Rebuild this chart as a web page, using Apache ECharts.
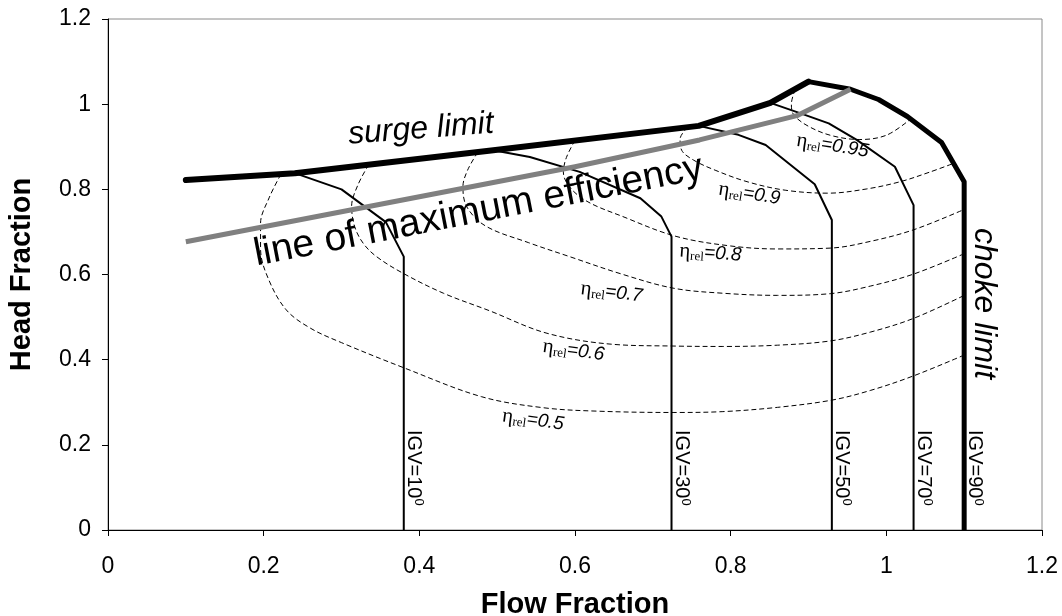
<!DOCTYPE html>
<html>
<head>
<meta charset="utf-8">
<script src="https://cdn.jsdelivr.net/npm/echarts@6/dist/echarts.min.js"></script>
<style>
  html, body { margin: 0; padding: 0; background: #fff; }
  #chart { width: 1062px; height: 616px; }
</style>
</head>
<body>
<div id="chart"></div>
<script>
// ---- compressor map data: [flow fraction, head fraction] ----
const tickLabels = ['0', '0.2', '0.4', '0.6', '0.8', '1', '1.2'];

const surgeLimit = [[0.10, 0.822], [0.24, 0.838], [0.495, 0.892], [0.759, 0.949], [0.851, 1.003], [0.90, 1.053]];
const maxEfficiency = [[0.10, 0.677], [0.60, 0.853], [0.76, 0.916], [0.885, 0.973], [0.954, 1.035]];

const igvAngles = [10, 30, 50, 70, 90];
const igv10 = [[0.24, 0.838], [0.30, 0.80], [0.357, 0.723], [0.38, 0.642], [0.38, 0]];
const igv30 = [[0.495, 0.892], [0.542, 0.876], [0.606, 0.841], [0.684, 0.779], [0.711, 0.736], [0.724, 0.689], [0.724, 0]];
const igv50 = [[0.759, 0.949], [0.81, 0.928], [0.845, 0.904], [0.908, 0.812], [0.93, 0.728], [0.93, 0]];
const igv70 = [[0.851, 1.003], [0.889, 0.979], [0.926, 0.955], [0.962, 0.916], [1.011, 0.853], [1.035, 0.763], [1.035, 0]];
const igv90 = [[0.90, 1.053], [0.954, 1.035], [0.99, 1.011], [1.027, 0.971], [1.071, 0.91], [1.10, 0.818], [1.10, 0]];

const etaLevels = [0.5, 0.6, 0.7, 0.8, 0.9, 0.95];
const eta50 = [[0.222, 0.835], [0.207, 0.78], [0.196, 0.72], [0.196, 0.66], [0.206, 0.59], [0.229, 0.517], [0.26, 0.474], [0.30, 0.44], [0.38, 0.381], [0.48, 0.313], [0.56, 0.287], [0.63, 0.279], [0.726, 0.276], [0.79, 0.278], [0.86, 0.288], [0.93, 0.305], [0.98, 0.328], [1.035, 0.362], [1.099, 0.41]];
const eta60 = [[0.335, 0.858], [0.321, 0.81], [0.313, 0.76], [0.317, 0.712], [0.328, 0.673], [0.345, 0.642], [0.379, 0.603], [0.431, 0.556], [0.49, 0.515], [0.564, 0.462], [0.649, 0.436], [0.726, 0.432], [0.79, 0.431], [0.86, 0.434], [0.928, 0.444], [0.98, 0.465], [1.035, 0.497], [1.099, 0.55]];
const eta70 = [[0.475, 0.887], [0.462, 0.845], [0.456, 0.806], [0.461, 0.759], [0.485, 0.714], [0.54, 0.675], [0.593, 0.642], [0.66, 0.601], [0.726, 0.568], [0.79, 0.556], [0.86, 0.551], [0.928, 0.555], [0.98, 0.573], [1.035, 0.601], [1.099, 0.648]];
const eta80 = [[0.60, 0.915], [0.589, 0.875], [0.585, 0.841], [0.606, 0.783], [0.667, 0.732], [0.731, 0.689], [0.80, 0.667], [0.86, 0.66], [0.928, 0.662], [0.98, 0.678], [1.035, 0.705], [1.099, 0.752]];
const eta90 = [[0.745, 0.946], [0.735, 0.918], [0.737, 0.892], [0.752, 0.869], [0.78, 0.845], [0.821, 0.818], [0.87, 0.798], [0.925, 0.791], [0.975, 0.801], [1.018, 0.818], [1.055, 0.84], [1.088, 0.862]];
const eta95 = [[0.883, 1.035], [0.878, 1.0], [0.881, 0.975], [0.90, 0.948], [0.93, 0.926], [0.966, 0.917], [1.0, 0.927], [1.029, 0.962]];

// ---- layout of the annotations (data-space anchors, rotation in degrees) ----
const igvCurves = [igv10, igv30, igv50, igv70, igv90];
const etaCurves = [eta50, eta60, eta70, eta80, eta90, eta95];
const igvLabelHead = 0.146;
const etaLabelSpots = [
  { at: [0.546, 0.258], rotate: -8 },
  { at: [0.598, 0.421], rotate: -8 },
  { at: [0.647, 0.558], rotate: -7 },
  { at: [0.774, 0.650], rotate: -4 },
  { at: [0.824, 0.789], rotate: -9 },
  { at: [0.931, 0.902], rotate: -9 }
];
const notes = [
  { text: 'surge limit', at: [0.402, 0.941], rotate: 4.4, size: 32, italic: true },
  { text: 'line of maximum efficiency', at: [0.476, 0.748], rotate: 11, size: 39, italic: false },
  { text: 'choke limit', at: [1.126, 0.532], rotate: -90, size: 32, italic: true }
];

const SANS = "'Liberation Sans', Arial, sans-serif";
const SERIF = "'Liberation Serif', 'Times New Roman', serif";

const base = { type: 'line', symbol: 'none', showSymbol: false, silent: true, animation: false };
const textLayer = { type: 'scatter', silent: true, animation: false, symbolSize: 0, itemStyle: { opacity: 1 } };

const series = [];

etaCurves.forEach((pts, i) => {
  series.push(Object.assign({}, base, {
    name: 'eta ' + etaLevels[i],
    data: pts,
    smooth: 0.35,
    z: 2,
    lineStyle: { color: '#000', width: 1, type: [5, 3] }
  }));
});

igvCurves.slice(0, 4).forEach((pts, i) => {
  series.push(Object.assign({}, base, {
    name: 'IGV ' + igvAngles[i],
    data: pts,
    z: 3,
    lineStyle: { color: '#000', width: 2, join: 'round' }
  }));
});

series.push(Object.assign({}, base, {
  name: 'choke limit',
  data: igv90,
  z: 4,
  lineStyle: { color: '#000', width: 5, join: 'round' }
}));

series.push(Object.assign({}, base, {
  name: 'surge limit',
  data: surgeLimit,
  z: 4,
  lineStyle: { color: '#000', width: 6, cap: 'round', join: 'round' }
}));

series.push(Object.assign({}, base, {
  name: 'max efficiency',
  data: maxEfficiency,
  z: 5,
  lineStyle: { color: '#808080', width: 5, join: 'round' }
}));

// IGV angle labels, reading downwards beside each vertical segment
series.push(Object.assign({}, textLayer, {
  z: 6,
  data: igvCurves.map((pts, i) => ({
    value: [pts[pts.length - 1][0], igvLabelHead],
    label: { formatter: '{t|IGV=' + igvAngles[i] + '}{s|0}' }
  })),
  label: {
    show: true,
    position: 'inside',
    rotate: -90,
    offset: [0, -10],
    color: '#000',
    rich: {
      t: { fontFamily: SANS, fontSize: 20, lineHeight: 22, color: '#000' },
      s: { fontFamily: SANS, fontSize: 13, lineHeight: 13, verticalAlign: 'top', color: '#000' }
    }
  }
}));

// relative efficiency contour labels
series.push(Object.assign({}, textLayer, {
  z: 6,
  data: etaLevels.map((lv, i) => ({
    value: etaLabelSpots[i].at,
    label: { rotate: etaLabelSpots[i].rotate, formatter: '{e|\u03B7}{r|rel}{v|=' + lv + '}' }
  })),
  label: {
    show: true,
    position: 'inside',
    color: '#000',
    rich: {
      e: { fontFamily: SERIF, fontSize: 21, lineHeight: 22, color: '#000' },
      r: { fontFamily: SERIF, fontSize: 13, lineHeight: 12, verticalAlign: 'bottom', color: '#000' },
      v: { fontFamily: SANS, fontSize: 19, fontStyle: 'italic', lineHeight: 22, color: '#000' }
    }
  }
}));

// large annotations
series.push(Object.assign({}, textLayer, {
  z: 7,
  data: notes.map(n => ({
    value: n.at,
    label: {
      formatter: n.text,
      rotate: n.rotate,
      fontSize: n.size,
      color: '#000',
      fontStyle: n.italic ? 'italic' : 'normal'
    }
  })),
  label: { show: true, position: 'inside', color: '#000', fontFamily: SANS }
}));

const axisCommon = {
  type: 'value',
  min: 0,
  max: 1.2,
  interval: 0.2,
  nameLocation: 'middle',
  nameTextStyle: { fontFamily: SANS, fontSize: 29, fontWeight: 'bold', color: '#000' },
  axisLine: { show: true, onZero: false, lineStyle: { color: '#000', width: 1 } },
  axisTick: { show: true, inside: false, length: 6, lineStyle: { color: '#000', width: 1 } },
  splitLine: { show: false },
  axisLabel: {
    fontFamily: SANS, fontSize: 23, color: '#000',
    formatter: v => tickLabels[Math.round(v / 0.2)]
  }
};

const chart = echarts.init(document.getElementById('chart'), null, { renderer: 'canvas' });
chart.setOption({
  animation: false,
  backgroundColor: '#fff',
  grid: {
    left: 108, right: 20, top: 19, bottom: 86,
    show: true, borderColor: '#8a8a8a', borderWidth: 1,
    containLabel: false, outerBoundsMode: 'none'
  },
  xAxis: Object.assign({}, axisCommon, {
    name: 'Flow Fraction',
    nameGap: 60,
    axisLabel: Object.assign({}, axisCommon.axisLabel, { margin: 25 })
  }),
  yAxis: Object.assign({}, axisCommon, {
    name: 'Head Fraction',
    nameGap: 72,
    axisLabel: Object.assign({}, axisCommon.axisLabel, { margin: 17 })
  }),
  series: series
});
</script>
</body>
</html>
